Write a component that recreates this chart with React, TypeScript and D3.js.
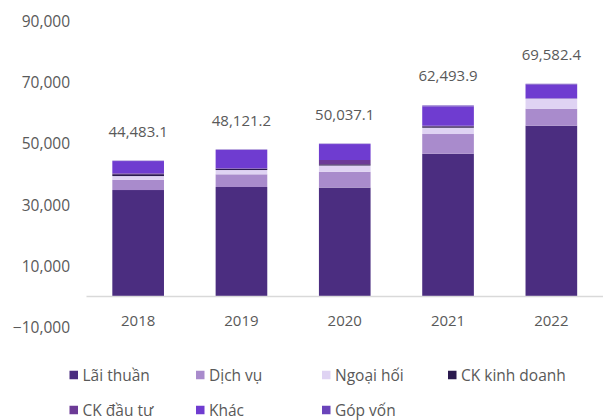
import React from "react";
import * as d3 from "d3";

const years = ["2018", "2019", "2020", "2021", "2022"];
const seriesNames = ["Lãi thuần", "Dịch vụ", "Ngoại hối", "CK kinh doanh", "CK đầu tư", "Khác", "Góp vốn"];
const laiThuan = [34900, 35890, 35700, 46750, 55900];
const dichVu = [3360, 4140, 5150, 6430, 5550];
const ngoaiHoi = [1200, 1400, 2050, 2060, 3260];
const ckKinhDoanh = [600, 400, 400, 450, 0];
const ckDauTu = [280, 150, 1400, 200, 100];
const khac = [4010, 6000, 5200, 6300, 4500];
const gopVon = [133, 140, 137, 304, 270];
const totals = [44483.1, 48121.2, 50037.1, 62493.9, 69582.4];
const tickValues = [-10000, 10000, 30000, 50000, 70000, 90000];
const colors = ["#4B2D80", "#A98BCC", "#DFD3F3", "#2B1A4F", "#6C3A96", "#6F3CD0", "#6A44BA"];

const W = 609;
const H = 420;
const FONT = "'Open Sans', sans-serif";
const TEXT = "#595959";

export default function App() {
  const series = [laiThuan, dichVu, ngoaiHoi, ckKinhDoanh, ckDauTu, khac, gopVon];
  const rows = years.map((yr, i) => {
    const r: any = { year: yr };
    seriesNames.forEach((n, j) => (r[n] = series[j][i]));
    return r;
  });
  const stacked = d3.stack<any>().keys(seriesNames)(rows);

  const x = d3.scaleBand().domain(years).range([86.5, 603]).paddingInner(0.5).paddingOuter(0.25);
  const y = d3.scaleLinear().domain([-10000, 90000]).range([327.6, 21.2]);
  const fmtTick = d3.format(",");
  const fmtTotal = d3.format(",.1f");

  const legendCols = [69.5, 196, 322, 448];
  const legendRows = [375, 410];

  return (
    <svg width={W} height={H} style={{ position: "absolute", left: 0, top: 0, background: "#fff" }}>
      {tickValues.map((t) => (
        <text key={t} x={70} y={y(t)} dy="0.36em" textAnchor="end" fontFamily={FONT} fontSize={15.5} fill={TEXT}>
          {fmtTick(t)}
        </text>
      ))}
      {stacked.map((s, j) => (
        <g key={s.key} fill={colors[j]}>
          {s.map((d, i) => (
            <rect
              key={i}
              x={x(years[i])!}
              width={x.bandwidth()}
              y={y(d[1])}
              height={Math.max(0, y(d[0]) - y(d[1]))}
            />
          ))}
        </g>
      ))}
      <line x1={86.5} x2={603} y1={y(0) - 0.5} y2={y(0) - 0.5} stroke="#D9D9D9" strokeWidth={1.5} />
      {years.map((yr, i) => (
        <text key={yr} x={x(yr)! + x.bandwidth() / 2} y={y(totals[i]) - 24} textAnchor="middle" fontFamily={FONT} fontSize={15} fill={TEXT}>
          {fmtTotal(totals[i])}
        </text>
      ))}
      {years.map((yr) => (
        <text key={"c" + yr} x={x(yr)! + x.bandwidth() / 2} y={325.5} textAnchor="middle" fontFamily={FONT} fontSize={15} fill={TEXT}>
          {yr}
        </text>
      ))}
      {seriesNames.map((n, j) => {
        const lx = legendCols[j % 4];
        const ly = legendRows[Math.floor(j / 4)];
        return (
          <g key={n}>
            <rect x={lx} y={ly - 4.25} width={8.5} height={8.5} fill={colors[j]} />
            <text x={lx + 13} y={ly} dy="0.36em" fontFamily={FONT} fontSize={15.5} fill={TEXT}>
              {n}
            </text>
          </g>
        );
      })}
    </svg>
  );
}
